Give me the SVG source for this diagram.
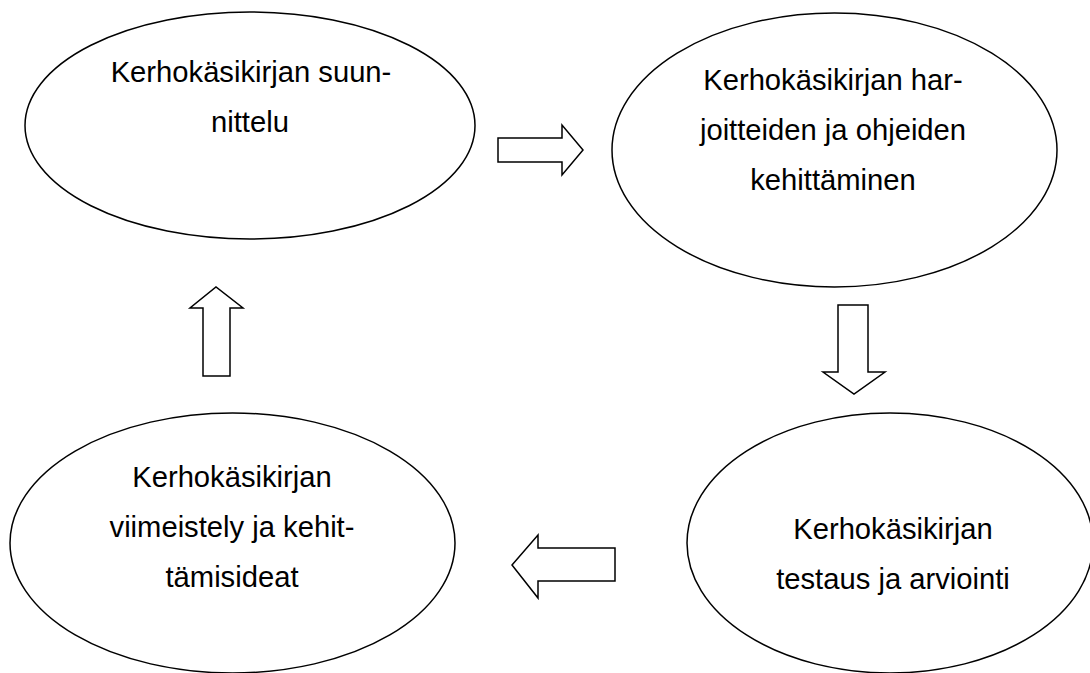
<svg xmlns="http://www.w3.org/2000/svg" width="1090" height="673" viewBox="0 0 1090 673">
<style>
.node ellipse{fill:#fff;stroke:#000;stroke-width:1.5}
.node text{font-family:"Liberation Sans",Arial,sans-serif;font-size:29.2px;fill:#000;text-anchor:middle}
.conn path{fill:#fff;stroke:#000;stroke-width:1.5;stroke-linejoin:miter}
</style>
<rect width="1090" height="673" fill="#fff"/>
<g id="node-suunnittelu" class="node">
<ellipse cx="250" cy="125.5" rx="225" ry="113.5"/>
<text x="251" y="82">Kerhokäsikirjan suun-</text>
<text x="250" y="132">nittelu</text>
</g>
<g id="node-kehittaminen" class="node">
<ellipse cx="834.5" cy="150" rx="222.5" ry="137"/>
<text x="833" y="90">Kerhokäsikirjan har-</text>
<text x="833" y="140">joitteiden ja ohjeiden</text>
<text x="833" y="190">kehittäminen</text>
</g>
<g id="node-testaus" class="node">
<ellipse cx="890" cy="543" rx="203" ry="130"/>
<text x="893" y="539">Kerhokäsikirjan</text>
<text x="893" y="589">testaus ja arviointi</text>
</g>
<g id="node-viimeistely" class="node">
<ellipse cx="232.5" cy="543" rx="222.5" ry="130"/>
<text x="232" y="487">Kerhokäsikirjan</text>
<text x="232" y="537">viimeistely ja kehit-</text>
<text x="232" y="587">tämisideat</text>
</g>
<g id="connectors" class="conn">
<path d="M498,138 H562 V125 L583,150 L562,175 V162 H498 Z"/>
<path d="M838,305 H868 V372 H885 L854,394 L823,372 H838 Z"/>
<path d="M615,548 H538 V535 L512,565 L538,598 V581 H615 Z"/>
<path d="M203,376 V308 H190 L216,287 L243,308 H230 V376 Z"/>
</g>
</svg>
